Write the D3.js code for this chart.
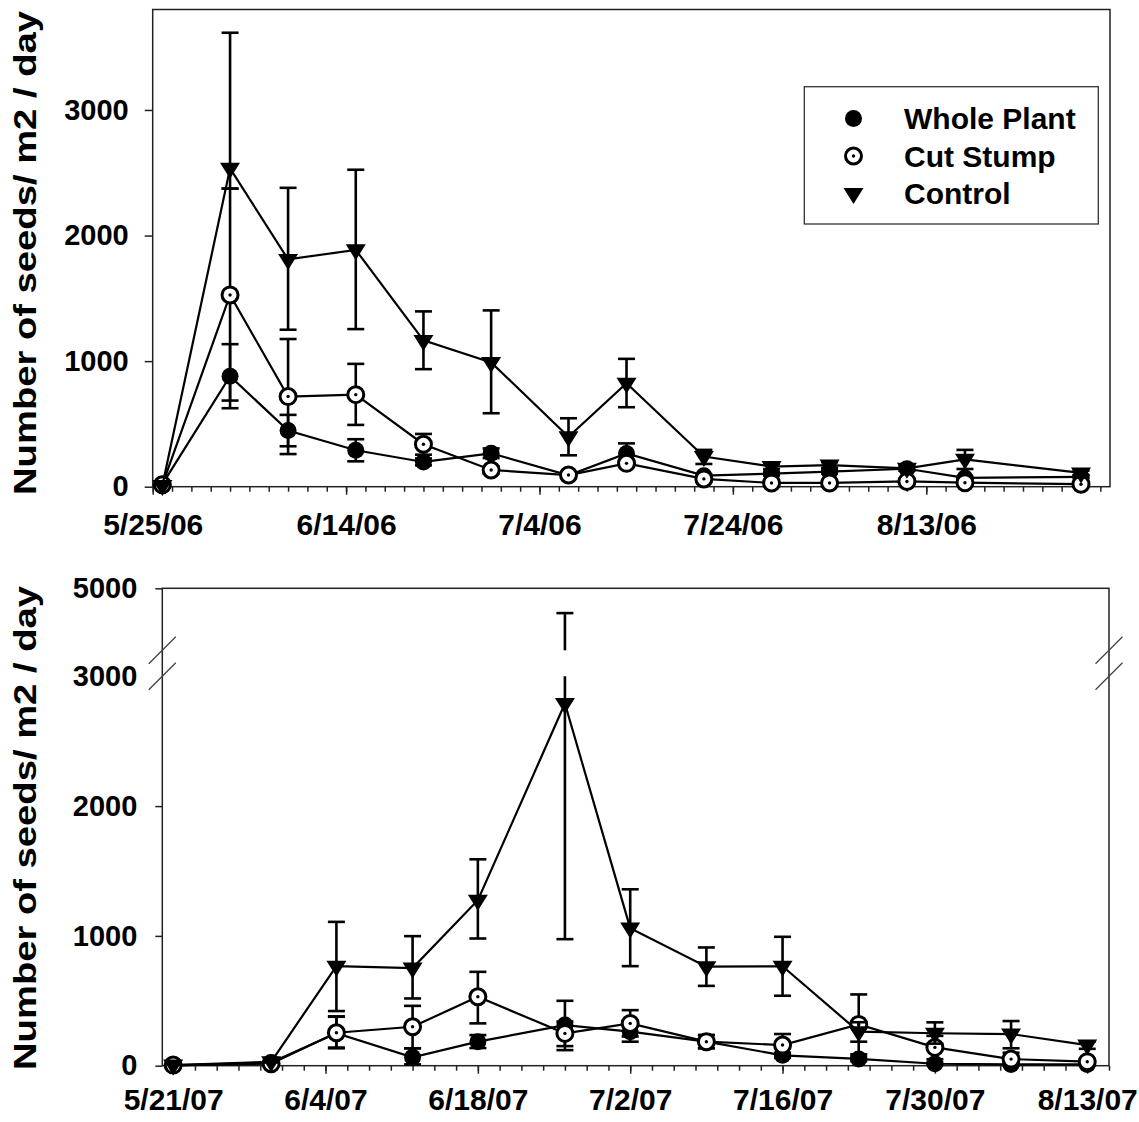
<!DOCTYPE html>
<html lang="en">
<head>
<meta charset="UTF-8">
<title>Seed rain 2006 / 2007</title>
<script src="https://d3js.org/d3.v7.min.js"></script>
<style>
  body { margin: 0; background: #fff; }
  svg text { font-family: "Liberation Sans", Arial, sans-serif; font-weight: bold; fill: #000; }
  .axis path { display: none; }
  .axis line { stroke: #222; stroke-width: 1.5; }
</style>
</head>
<body>
<script>
// ---- data ----
const seriesNames = ["Whole Plant", "Cut Stump", "Control"];

// 2006 panel
const dates06 = ["5/26/06","6/2/06","6/8/06","6/15/06","6/22/06","6/29/06","7/7/06","7/13/06","7/21/06","7/28/06","8/3/06","8/11/06","8/17/06","8/29/06"];
const whole06   = [20, 880, 447, 290, 197, 266, 90, 265, 88, 104, 120, 143, 70, 78];
const whole06Hi = [20, 1135, 572, 378, 225, 305, 110, 345, 100, 118, 135, 158, 80, 90];
const whole06Lo = [20, 625, 322, 202, 170, 228, 70, 185, 75, 90, 105, 128, 60, 66];
const stump06   = [15, 1527, 718, 733, 338, 133, 93, 186, 62, 30, 30, 42, 32, 20];
const stump06Hi = [15, 2374, 1176, 978, 420, 160, 110, 215, 75, 40, 40, 55, 40, 28];
const stump06Lo = [15, 686, 260, 492, 255, 106, 76, 157, 50, 20, 20, 30, 24, 12];
const ctrl06    = [10, 2535, 1810, 1886, 1165, 990, 398, 824, 240, 160, 172, 146, 218, 110];
const ctrl06Hi  = [10, 3615, 2380, 2524, 1396, 1404, 545, 1018, 293, 180, 195, 165, 293, 128];
const ctrl06Lo  = [10, 2374, 1250, 1255, 936, 585, 250, 633, 181, 140, 150, 128, 141, 92];

// 2007 panel
const dates07 = ["5/21/07","5/30/07","6/5/07","6/12/07","6/18/07","6/26/07","7/2/07","7/9/07","7/16/07","7/23/07","7/30/07","8/6/07","8/13/07"];
const whole07   = [0, 25, 250, 65, 185, 313, 262, 185, 80, 52, 15, 10, 10];
const whole07Hi = [0, 30, 380, 134, 236, 500, 345, 236, 100, 70, 25, 18, 18];
const whole07Lo = [0, 20, 140, 10, 136, 120, 185, 136, 60, 35, 5, 2, 2];
const stump07   = [5, 15, 254, 300, 531, 249, 326, 185, 159, 318, 141, 51, 31];
const stump07Hi = [5, 20, 377, 461, 723, 340, 428, 236, 244, 549, 230, 100, 50];
const stump07Lo = [5, 10, 134, 134, 326, 151, 225, 134, 75, 88, 50, 5, 12];
const ctrl07    = [5, 30, 767, 752, 1275, 2790, 1060, 763, 766, 262, 250, 244, 159];
const ctrl07Hi  = [5, 35, 1108, 998, 1590, 4600, 1359, 911, 993, 335, 334, 344, 185];
const ctrl07Lo  = [5, 25, 421, 518, 980, 975, 767, 615, 539, 185, 170, 134, 130];

// axis ticks
const xTicks06 = ["5/25/06","6/14/06","7/4/06","7/24/06","8/13/06"];
const xTicks07 = ["5/21/07","6/4/07","6/18/07","7/2/07","7/16/07","7/30/07","8/13/07"];
const yTicks06 = [0, 1000, 2000, 3000];
const yTicks07Low = [0, 1000, 2000, 3000];
const yTicks07High = [5000];

const parse = d3.timeParse("%m/%d/%y");
const fmt = d3.timeFormat("%-m/%-d/%y");
const yFmt = d3.format("d");
const yTitle = "Number of seeds/ m2 / day";

const W = 1139, H = 1122;
const svg = d3.select("body").append("svg").attr("width", W).attr("height", H);

// ---- helpers ----
function pack(dates, v, hi, lo) {
  return dates.map((d, i) => ({ date: parse(d), v: v[i], hi: hi[i], lo: lo[i] }));
}

const markers = {
  "Whole Plant": g => g.append("circle").attr("r", 8.5).attr("fill", "#000"),
  "Cut Stump": g => {
    g.append("circle").attr("r", 8).attr("fill", "#fff").attr("stroke", "#000").attr("stroke-width", 3);
    g.append("circle").attr("r", 1.7).attr("fill", "#000");
  },
  "Control": g => g.append("path").attr("d", "M-10,-5.5L10,-5.5L0,10.5Z").attr("fill", "#000")
};

function minorTicks(start, end) {
  const out = [];
  for (let d = start; d <= end; d = d3.timeDay.offset(d, 2)) out.push(d);
  return out;
}

function drawSeries(g, data, name, x, yFn, segs) {
  // connecting line
  g.append("path")
    .attr("d", d3.line().x(d => x(d.date)).y(d => yFn(d.v))(data))
    .attr("fill", "none").attr("stroke", "#000").attr("stroke-width", 2.2);
  // error bars, split over the axis segments
  data.forEach(d => {
    segs.forEach(([a, b]) => {
      const lo = Math.max(d.lo, a), hi = Math.min(d.hi, b);
      if (hi <= lo) return;
      g.append("line").attr("x1", x(d.date)).attr("x2", x(d.date))
        .attr("y1", yFn(lo)).attr("y2", yFn(hi))
        .attr("stroke", "#000").attr("stroke-width", 2.6);
    });
    [d.lo, d.hi].forEach(e => {
      if (e === d.v) return;
      if (!segs.some(([a, b]) => e >= a && e <= b)) return;
      g.append("line").attr("x1", x(d.date) - 8.5).attr("x2", x(d.date) + 8.5)
        .attr("y1", yFn(e)).attr("y2", yFn(e))
        .attr("stroke", "#000").attr("stroke-width", 2.6);
    });
  });
  // markers
  data.forEach(d => {
    const m = g.append("g").attr("transform", `translate(${x(d.date)},${yFn(d.v)})`);
    markers[name](m);
  });
}

function drawXAxis(g, x, y0, majors, padding) {
  const start = majors[0], end = x.domain()[1];
  g.append("g").attr("class", "axis").attr("transform", `translate(0,${y0})`)
    .call(d3.axisBottom(x).tickValues(minorTicks(start, end)).tickSize(5).tickFormat(""));
  g.append("g").attr("class", "axis").attr("transform", `translate(0,${y0})`)
    .call(d3.axisBottom(x).tickValues(majors).tickSize(8).tickPadding(padding).tickFormat(fmt))
    .selectAll("text").style("font-size", "30px");
}

function drawTitle(g, cy) {
  g.append("text")
    .attr("transform", `translate(36,${cy}) rotate(-90)`)
    .attr("text-anchor", "middle").style("font-size", "32px")
    .attr("textLength", 484).attr("lengthAdjust", "spacingAndGlyphs")
    .text(yTitle);
}

// ================= top panel (2006) =================
const t = { left: 152.7, right: 1110, top: 9.5, bottom: 486.7 };
const x06 = d3.scaleTime().domain([parse("5/25/06"), parse("9/1/06")]).range([t.left, t.right]);
const y06 = d3.scaleLinear().domain([0, 3800]).range([t.bottom, t.top]);
const gTop = svg.append("g");

gTop.append("rect").attr("x", t.left).attr("y", t.top)
  .attr("width", t.right - t.left).attr("height", t.bottom - t.top)
  .attr("fill", "none").attr("stroke", "#222").attr("stroke-width", 1.5);

gTop.append("g").attr("class", "axis").attr("transform", `translate(${t.left},0)`)
  .call(d3.axisLeft(y06).tickValues(yTicks06).tickSize(8).tickPadding(16).tickFormat(yFmt))
  .selectAll("text").style("font-size", "29px");
drawXAxis(gTop, x06, t.bottom, xTicks06.map(parse), 19);

const top06 = [
  ["Whole Plant", pack(dates06, whole06, whole06Hi, whole06Lo)],
  ["Cut Stump", pack(dates06, stump06, stump06Hi, stump06Lo)],
  ["Control", pack(dates06, ctrl06, ctrl06Hi, ctrl06Lo)]
];
top06.forEach(([n, d]) => drawSeries(gTop, d, n, x06, y06, [[0, 3800]]));

drawTitle(gTop, 253);

// legend
const lg = gTop.append("g");
lg.append("rect").attr("x", 804.3).attr("y", 86.7).attr("width", 294).attr("height", 137.3)
  .attr("fill", "#fff").attr("stroke", "#333").attr("stroke-width", 1.3);
seriesNames.forEach((n, i) => {
  const yy = 118.5 + i * 37.5;
  const m = lg.append("g").attr("transform", `translate(853.5,${yy})`);
  markers[n](m);
  lg.append("text").attr("x", 904).attr("y", yy).attr("dy", "0.36em")
    .style("font-size", "30px").text(n);
});

// ================= bottom panel (2007, broken axis) =================
const b = { left: 162.3, right: 1109, top: 588.3, bottom: 1065.7, lowTop: 676.3, highBottom: 650.3 };
const x07 = d3.scaleTime().domain([parse("5/20/07"), parse("8/15/07")]).range([b.left, b.right]);
const yLow = d3.scaleLinear().domain([0, 3000]).range([b.bottom, b.lowTop]);
const yHigh = d3.scaleLinear().domain([4000, 5000]).range([b.highBottom, b.top]);
const y07 = v => (v <= 3000 ? yLow(v) : yHigh(v));
const gBot = svg.append("g");

gBot.append("rect").attr("x", b.left).attr("y", b.top)
  .attr("width", b.right - b.left).attr("height", b.bottom - b.top)
  .attr("fill", "none").attr("stroke", "#222").attr("stroke-width", 1.5);

const yAxLow = gBot.append("g").attr("class", "axis").attr("transform", `translate(${b.left},0)`)
  .call(d3.axisLeft(yLow).tickValues(yTicks07Low).tickSize(7).tickPadding(18).tickFormat(yFmt));
yAxLow.selectAll("text").style("font-size", "29px");
yAxLow.selectAll(".tick").filter(d => d === 3000).select("line").remove();
gBot.append("g").attr("class", "axis").attr("transform", `translate(${b.left},0)`)
  .call(d3.axisLeft(yHigh).tickValues(yTicks07High).tickSize(7).tickPadding(18).tickFormat(yFmt))
  .selectAll("text").style("font-size", "29px");
drawXAxis(gBot, x07, b.bottom, xTicks07.map(parse), 15);

// break marks on both vertical edges
[b.left, b.right].forEach(xx => {
  [yHigh(4000), yLow(3000)].forEach(yy => {
    gBot.append("line").attr("x1", xx - 13.5).attr("x2", xx + 13.5)
      .attr("y1", yy + 13.5).attr("y2", yy - 13.5)
      .attr("stroke", "#444").attr("stroke-width", 1.3);
  });
});

const bot07 = [
  ["Whole Plant", pack(dates07, whole07, whole07Hi, whole07Lo)],
  ["Cut Stump", pack(dates07, stump07, stump07Hi, stump07Lo)],
  ["Control", pack(dates07, ctrl07, ctrl07Hi, ctrl07Lo)]
];
bot07.forEach(([n, d]) => drawSeries(gBot, d, n, x07, y07, [[0, 3000], [4000, 5000]]));

drawTitle(gBot, 828);
</script>
</body>
</html>
